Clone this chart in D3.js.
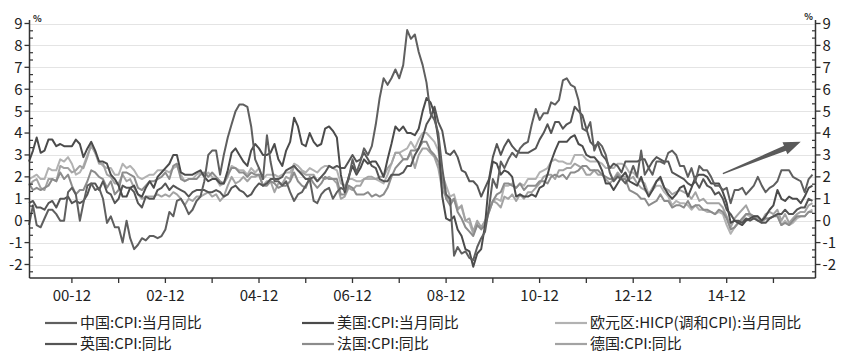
<!DOCTYPE html>
<html><head><meta charset="utf-8">
<script src="https://cdn.jsdelivr.net/npm/d3@7"></script>
<style>
html,body{margin:0;padding:0;background:#fff;}
svg{display:block;font-family:"Noto Sans CJK SC","Noto Sans",sans-serif;}
</style></head>
<body><svg id="c" width="848" height="356"></svg>
<script>
// monthly data 2000-01 .. 2016-10
const startYear = 2000, startMonth = 0;
const seriesNames = ["中国:CPI:当月同比","美国:CPI:当月同比","欧元区:HICP(调和CPI):当月同比","英国:CPI:同比","法国:CPI:同比","德国:CPI:同比"];
const china = [
-0.2,0.7,-0.2,-0.3,0.1,0.5,0.5,0.3,0.0,0.0,1.3,1.5,
1.2,0.0,0.8,1.6,1.7,1.4,1.5,1.0,-0.1,0.2,-0.3,-0.3,
-1.0,0.0,-0.8,-1.3,-1.1,-0.8,-0.9,-0.7,-0.7,-0.8,-0.7,-0.4,
0.4,0.2,0.9,1.0,0.7,0.3,0.5,0.9,1.1,1.8,3.0,3.2,
3.2,2.1,3.0,3.8,4.4,5.0,5.3,5.3,5.2,4.3,2.8,2.4,
1.9,3.9,2.7,1.8,1.8,1.6,1.8,1.3,0.9,1.2,1.3,1.6,
1.9,0.9,0.8,1.2,1.4,1.5,1.0,1.3,1.5,1.4,1.9,2.8,
2.2,2.7,3.3,3.0,3.4,4.4,5.6,6.5,6.2,6.5,6.9,6.5,
7.1,8.7,8.3,8.5,7.7,7.1,6.3,4.9,4.6,4.0,2.4,1.2,
1.0,-1.6,-1.2,-1.5,-1.4,-1.7,-1.8,-1.2,-0.8,-0.5,0.6,1.9,
1.5,2.7,2.4,2.8,3.1,2.9,3.3,3.5,3.6,4.4,5.1,4.6,
4.9,4.9,5.4,5.3,5.5,6.4,6.5,6.2,6.1,5.5,4.2,4.1,
4.5,3.2,3.6,3.4,3.0,2.2,1.8,2.0,1.9,1.7,2.0,2.5,
2.0,3.2,2.1,2.4,2.1,2.7,2.7,2.6,3.1,3.2,3.0,2.5,
2.5,2.0,2.4,1.8,2.5,2.3,2.3,2.0,1.6,1.6,1.4,1.5,
0.8,1.4,1.4,1.5,1.2,1.4,1.6,2.0,1.6,1.3,1.5,1.6,
1.8,2.3,2.3,2.3,2.0,1.9,1.8,1.3,1.9,2.1];
const usa = [
2.7,3.2,3.8,3.1,3.2,3.7,3.7,3.4,3.5,3.4,3.4,3.4,
3.7,3.5,2.9,3.3,3.6,3.2,2.7,2.7,2.6,2.1,1.9,1.6,
1.1,1.1,1.5,1.6,1.2,1.1,1.5,1.8,1.5,2.0,2.2,2.4,
2.6,3.0,3.0,2.2,2.1,2.1,2.1,2.2,2.3,2.0,1.8,1.9,
1.9,1.7,1.7,2.3,3.1,3.3,3.0,2.7,2.5,3.2,3.5,3.3,
3.0,3.0,3.1,3.5,2.8,2.5,3.2,3.6,4.7,4.3,3.5,3.4,
4.0,3.6,3.4,3.5,4.2,4.3,4.1,3.8,2.1,1.3,2.0,2.5,
2.1,2.4,2.8,2.6,2.7,2.7,2.4,2.0,2.8,3.5,4.3,4.1,
4.3,4.0,4.0,3.9,4.2,5.0,5.6,5.4,4.9,3.7,1.1,0.1,
0.0,0.2,-0.4,-0.7,-1.3,-1.4,-2.1,-1.5,-1.3,-0.2,1.8,2.7,
2.6,2.1,2.3,2.2,2.0,1.1,1.2,1.1,1.1,1.2,1.1,1.5,
1.6,2.1,2.7,3.2,3.6,3.6,3.6,3.8,3.9,3.5,3.4,3.0,
2.9,2.9,2.7,2.3,1.7,1.7,1.4,1.7,2.0,2.2,1.8,1.7,
1.6,2.0,1.5,1.1,1.4,1.8,2.0,1.5,1.2,1.0,1.2,1.5,
1.6,1.1,1.5,2.0,2.1,2.1,2.0,1.7,1.7,1.7,1.3,0.8,
-0.1,0.0,-0.1,-0.2,0.0,0.1,0.2,0.2,0.0,0.2,0.5,0.7,
1.4,1.0,0.9,1.1,1.0,1.0,0.8,1.1,1.5,1.6];
const euro = [
1.9,2.0,2.1,1.9,1.9,2.4,2.3,2.3,2.8,2.7,2.9,2.6,
2.1,2.2,2.5,3.0,3.4,3.1,2.7,2.5,2.4,2.4,2.1,2.1,
2.6,2.4,2.5,2.3,2.0,1.9,2.0,2.1,2.1,2.3,2.3,2.3,
2.2,2.4,2.5,2.1,1.8,1.9,1.9,2.1,2.2,2.0,2.2,2.0,
1.9,1.6,1.7,2.0,2.5,2.4,2.3,2.3,2.1,2.4,2.2,2.4,
1.9,2.1,2.1,2.1,2.0,2.1,2.2,2.2,2.6,2.5,2.3,2.2,
2.4,2.3,2.2,2.4,2.5,2.5,2.4,2.3,1.7,1.6,1.9,1.9,
1.8,1.8,1.9,1.9,1.9,1.9,1.8,1.7,2.1,2.6,3.1,3.1,
3.2,3.3,3.6,3.3,3.7,4.0,4.0,3.8,3.6,3.2,2.1,1.6,
1.1,1.2,0.6,0.6,0.0,-0.1,-0.6,-0.2,-0.3,-0.1,0.5,0.9,
1.0,0.9,1.6,1.6,1.7,1.5,1.7,1.6,1.9,1.9,1.9,2.2,
2.3,2.4,2.7,2.8,2.7,2.7,2.6,2.6,3.0,3.0,3.0,2.8,
2.7,2.7,2.7,2.6,2.4,2.4,2.4,2.6,2.6,2.5,2.2,2.2,
2.0,1.8,1.7,1.2,1.4,1.6,1.6,1.3,1.1,0.7,0.9,0.8,
0.8,0.7,0.5,0.7,0.5,0.5,0.4,0.4,0.3,0.4,0.3,-0.2,
-0.6,-0.3,-0.1,0.0,0.3,0.2,0.2,0.1,-0.1,0.1,0.1,0.2,
0.3,-0.2,0.0,-0.2,-0.1,0.1,0.2,0.2,0.4,0.5];
const uk = [
0.8,0.9,0.6,0.6,0.5,0.8,0.9,0.6,1.0,1.0,1.1,0.8,
0.9,0.8,0.9,1.2,1.7,1.7,1.4,1.8,1.3,1.2,0.8,1.0,
1.6,1.5,1.5,1.3,0.8,0.6,1.1,1.0,1.0,1.4,1.5,1.7,
1.4,1.6,1.5,1.4,1.3,1.1,1.3,1.4,1.4,1.4,1.3,1.3,
1.4,1.3,1.1,1.2,1.5,1.6,1.4,1.3,1.1,1.2,1.5,1.7,
1.6,1.7,1.9,1.9,1.9,2.0,2.3,2.4,2.5,2.3,2.1,1.9,
1.9,2.0,1.8,2.0,2.2,2.5,2.4,2.5,2.4,2.4,2.7,3.0,
2.7,2.8,3.1,2.8,2.5,2.4,1.9,1.8,1.8,2.1,2.1,2.1,
2.2,2.5,2.5,3.0,3.3,3.8,4.4,4.7,5.2,4.5,4.1,3.1,
3.0,3.2,2.9,2.3,2.2,1.8,1.8,1.6,1.1,1.5,1.9,2.9,
3.5,3.0,3.4,3.7,3.4,3.2,3.1,3.1,3.1,3.2,3.3,3.7,
4.0,4.4,4.0,4.5,4.5,4.2,4.4,4.5,5.2,5.0,4.8,4.2,
3.6,3.4,3.5,3.0,2.8,2.4,2.6,2.5,2.2,2.7,2.7,2.7,
2.7,2.8,2.8,2.4,2.7,2.9,2.8,2.7,2.7,2.2,2.1,2.0,
1.9,1.7,1.6,1.8,1.5,1.9,1.6,1.5,1.2,1.3,1.0,0.5,
0.3,0.0,0.0,-0.1,0.1,0.0,0.1,0.0,-0.1,-0.1,0.1,0.2,
0.3,0.3,0.5,0.3,0.3,0.5,0.6,0.6,1.0,0.9];
const france = [
1.7,1.4,1.5,1.4,1.5,1.6,1.9,1.8,2.2,1.9,2.1,1.6,
1.2,1.4,1.4,1.8,2.3,2.2,2.0,1.9,1.5,1.8,1.2,1.4,
2.2,2.2,2.1,2.0,1.5,1.4,1.6,1.8,1.8,1.9,2.0,2.2,
1.9,2.5,2.6,1.9,1.8,1.9,1.9,1.9,2.1,2.2,2.0,2.2,
2.0,1.8,1.7,2.1,2.4,2.4,2.2,2.2,2.0,2.2,2.1,2.1,
1.6,1.6,1.8,1.7,1.5,1.6,1.6,1.8,2.2,1.8,1.6,1.5,
2.0,1.7,1.5,1.7,2.0,1.9,1.9,1.9,1.2,1.2,1.6,1.5,
1.2,1.2,1.2,1.3,1.1,1.2,1.1,1.2,1.5,2.0,2.4,2.6,
2.8,2.8,3.2,3.2,3.3,3.6,3.6,3.2,3.0,2.7,1.9,1.0,
0.7,1.0,0.4,0.1,-0.3,-0.5,-0.7,-0.2,-0.4,-0.2,0.4,0.9,
1.2,1.3,1.7,1.7,1.6,1.5,1.7,1.4,1.6,1.6,1.6,1.8,
1.8,1.7,2.0,2.1,2.0,2.1,1.9,2.2,2.2,2.3,2.5,2.5,
2.3,2.3,2.3,2.1,2.0,1.9,1.9,2.1,1.9,1.9,1.4,1.3,
1.2,1.0,1.0,0.7,0.8,0.9,1.2,0.9,0.9,0.6,0.7,0.7,
0.6,0.9,0.6,0.7,0.7,0.5,0.5,0.4,0.3,0.5,0.4,0.1,
-0.4,-0.3,-0.1,0.1,0.3,0.3,0.2,0.0,0.0,0.1,0.1,0.2,
0.2,-0.2,-0.1,-0.2,0.0,0.2,0.2,0.2,0.4,0.4];
const germany = [
1.6,1.8,1.9,1.5,1.4,1.9,1.9,1.8,2.5,2.4,2.4,2.2,
2.3,2.5,2.4,2.9,3.5,3.1,2.6,2.6,2.1,2.0,1.7,1.7,
2.1,1.8,1.9,1.5,1.2,1.0,1.1,1.1,1.1,1.2,1.1,1.2,
1.1,1.3,1.2,1.0,0.7,1.0,0.9,1.1,1.1,1.2,1.3,1.1,
1.2,0.9,1.1,1.6,2.0,1.7,1.8,2.0,1.8,2.0,2.0,2.1,
1.6,1.8,1.8,1.3,1.7,1.7,2.0,1.9,2.5,2.3,2.2,2.1,
2.1,2.1,1.8,2.0,1.9,2.0,1.9,1.7,1.0,1.1,1.5,1.4,
1.6,1.6,1.9,2.0,2.0,1.9,2.0,2.0,2.4,2.6,3.1,3.1,
2.8,2.8,3.1,2.4,3.0,3.3,3.3,3.1,2.9,2.4,1.4,1.1,
0.9,1.0,0.5,0.7,0.0,0.1,-0.5,0.0,-0.3,0.0,0.4,0.9,
0.8,0.6,1.1,1.0,1.2,0.9,1.2,1.0,1.3,1.3,1.5,1.7,
2.0,2.1,2.1,1.9,2.3,2.3,2.4,2.4,2.6,2.5,2.4,2.1,
2.1,2.3,2.1,2.1,1.9,1.7,1.9,2.2,2.0,2.0,1.9,2.0,
1.7,1.5,1.4,1.2,1.5,1.8,1.9,1.5,1.4,1.2,1.3,1.4,
1.3,1.2,1.0,1.3,0.9,1.0,0.8,0.8,0.8,0.8,0.6,0.2,
-0.3,0.1,0.3,0.5,0.7,0.3,0.2,0.2,0.0,0.3,0.4,0.3,
0.5,0.0,0.3,-0.1,0.1,0.3,0.4,0.4,0.7,0.8];
const yTicks = [-2,-1,0,1,2,3,4,5,6,7,8,9];
const xTickLabels = ["00-12","02-12","04-12","06-12","08-12","10-12","12-12","14-12"];
const arrowFrom = {date:[2014,10], value:2.15};
const arrowTo = {date:[2016,6], value:3.6};

const seriesValues = [china, usa, euro, uk, france, germany];
const colors = ["#5f5f5f","#4b4b4b","#b2b2b2","#555555","#8c8c8c","#a3a3a3"];
// draw order: light ones first, dark ones on top
const drawOrder = [2,5,4,3,1,0];

const svg = d3.select("#c");
const L = 29.5, R = 815.5, B = 278, T = 20;
const x = d3.scaleTime().domain([new Date(2000,0,1), new Date(2016,9,1)]).range([29, 812.5]);
const y = d3.scaleLinear().domain([-2, 9]).range([264.5, 23.5]);
const dateOf = i => new Date(startYear, startMonth + i, 1);

// gridlines
svg.append("g").selectAll("line").data(yTicks).join("line")
  .attr("x1", L).attr("x2", R).attr("y1", d => Math.round(y(d))+0.5).attr("y2", d => Math.round(y(d))+0.5)
  .attr("stroke", "#e4e4e4").attr("stroke-width", 1.2);

// series
const line = d3.line().x((d,i) => x(dateOf(i))).y(d => y(d)).curve(d3.curveLinear);
const gS = svg.append("g");
drawOrder.forEach(k => {
  gS.append("path").datum(seriesValues[k]).attr("d", line)
    .attr("fill","none").attr("stroke", colors[k]).attr("stroke-width", 2).attr("stroke-linejoin","round");
});

// axes
const axisColor = "#333";
function yAxisDecor(xPos, side){
  const g = svg.append("g");
  g.append("line").attr("x1", xPos).attr("x2", xPos).attr("y1", T).attr("y2", B).attr("stroke", axisColor).attr("stroke-width", 1.5);
  const dir = side === "left" ? -1 : 1;
  // major ticks
  g.selectAll(".maj").data(yTicks).join("line")
    .attr("x1", xPos).attr("x2", xPos + dir*5).attr("y1", d => y(d)).attr("y2", d => y(d))
    .attr("stroke", axisColor).attr("stroke-width", 1.3);
  // minor ticks every 1/3
  const minor = [];
  for (let v = -2.6; v <= 9.2; v += 1/3) {
    const r = Math.round(v*3);
    if (r % 3 !== 0 && y(r/3) <= B && y(r/3) >= T) minor.push(r/3);
  }
  g.selectAll(".min").data(minor).join("line")
    .attr("x1", xPos).attr("x2", xPos - dir*3.5).attr("y1", d => y(d)).attr("y2", d => y(d))
    .attr("stroke", axisColor).attr("stroke-width", 1.2);
  g.selectAll("text").data(yTicks).join("text")
    .attr("x", xPos + dir*7).attr("y", d => y(d)).attr("dy", "0.36em")
    .attr("text-anchor", side === "left" ? "end" : "start")
    .attr("font-size", 15).attr("fill", "#222").text(d => d);
}
yAxisDecor(L, "left");
yAxisDecor(R, "right");

svg.append("text").attr("x", 33).attr("y", 22).attr("font-size", 9).attr("font-weight","bold").attr("fill","#222").text("%");
svg.append("text").attr("x", 813).attr("y", 20).attr("text-anchor","end").attr("font-size", 9).attr("font-weight","bold").attr("fill","#222").text("%");

// x axis
const gx = svg.append("g");
gx.append("line").attr("x1", L).attr("x2", R).attr("y1", B).attr("y2", B).attr("stroke", axisColor).attr("stroke-width", 1.5);
const decTicks = d3.range(2000, 2016).map(yr => new Date(yr, 11, 1));
gx.selectAll(".t").data(decTicks).join("line")
  .attr("x1", d => x(d)).attr("x2", d => x(d)).attr("y1", B).attr("y2", B + 5)
  .attr("stroke", axisColor).attr("stroke-width", 1.3);
gx.selectAll("text").data(xTickLabels).join("text")
  .attr("x", d => x(new Date(2000 + +d.slice(0,2), 11, 1)))
  .attr("y", 301).attr("text-anchor","middle").attr("font-size", 15).attr("fill","#222").text(d => d);

// arrow annotation
{
  const x0 = x(new Date(arrowFrom.date[0], arrowFrom.date[1], 1)), y0 = y(arrowFrom.value);
  const x1 = x(new Date(arrowTo.date[0], arrowTo.date[1], 1)), y1 = y(arrowTo.value);
  const dx = x1 - x0, dy = y1 - y0, len = Math.hypot(dx, dy);
  const ux = dx/len, uy = dy/len, nx = -uy, ny = ux;
  const hl = 17, hw = 6.5, w0 = 0.6, w1 = 2.6;
  const bx = x1 - ux*hl, by = y1 - uy*hl;
  const pts = [
    [x0 + nx*w0, y0 + ny*w0],
    [bx + nx*w1, by + ny*w1],
    [bx + nx*hw, by + ny*hw],
    [x1, y1],
    [bx - nx*hw, by - ny*hw],
    [bx - nx*w1, by - ny*w1],
    [x0 - nx*w0, y0 - ny*w0]
  ];
  svg.append("path").attr("d", d3.line()(pts) + "Z").attr("fill", "#5a5a5a");
}

// legend
const legendPos = [[45,323],[302,323],[555,323],[45,344],[302,344],[555,344]];
const lg = svg.append("g");
seriesNames.forEach((name, k) => {
  const [lx, ly] = legendPos[k];
  lg.append("line").attr("x1", lx).attr("x2", lx + 32).attr("y1", ly).attr("y2", ly)
    .attr("stroke", colors[k]).attr("stroke-width", 2.2);
  lg.append("text").attr("x", lx + 35).attr("y", ly).attr("dy","0.36em")
    .attr("font-size", 15).attr("fill", "#222").text(name);
});
</script>
</body></html>
